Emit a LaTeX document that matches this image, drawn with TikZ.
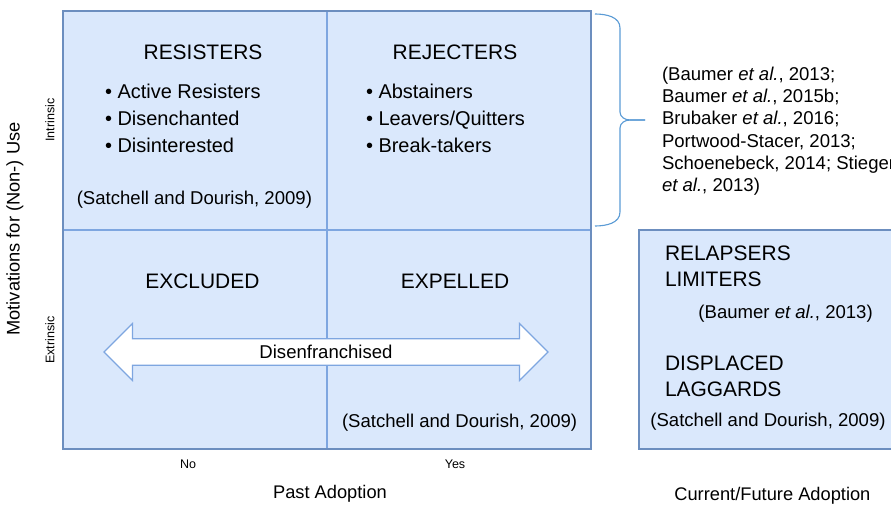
\documentclass[tikz,border=0pt]{standalone}
\usepackage{fontspec}
\setmainfont{Liberation Sans}
\usepackage{tikz}
\usetikzlibrary{shapes.arrows}

\definecolor{cellblue}{HTML}{DAE8FC}
\definecolor{lineblue}{HTML}{7EA6E0}
\definecolor{edgeblue}{HTML}{6C8EBF}
\definecolor{braceblue}{HTML}{5B9BD5}

\begin{document}
\begin{tikzpicture}[every node/.style={inner sep=0pt, outer sep=0pt},
  cell/.style={fill=cellblue, minimum width=6.6cm, minimum height=5.475cm},
  title/.style={font=\fontsize{14.9}{18}\selectfont},
  item/.style={font=\fontsize{14.2}{19.2}\selectfont, align=left, anchor=west},
  cite/.style={font=\fontsize{13.2}{15.7}\selectfont},
  axis/.style={font=\fontsize{13}{15}\selectfont},
  tick/.style={font=\fontsize{8.9}{10}\selectfont}]
\useasboundingbox (0,0) rectangle (22.275,12.6);

% quadrants
\node[cell] (resisters) at (4.875,9.5875) {};
\node[cell] (rejecters) at (11.475,9.5875) {};
\node[cell] (excluded) at (4.875,4.1125) {};
\node[cell] (expelled) at (11.475,4.1125) {};
\node[cell, draw=edgeblue, line width=0.8pt, minimum width=6.325cm] (current) at (19.1375,4.1125) {};

\draw[lineblue, line width=0.8pt] (resisters.north east) -- (excluded.south east);
\draw[lineblue, line width=0.8pt] (resisters.south west) -- (rejecters.south east);
\draw[edgeblue, line width=0.8pt] (resisters.north west) rectangle (expelled.south east);

% intrinsic
\node[title] (restitle) at (5.075,11.3) {RESISTERS};
\node[item] (resitems) at (2.625,9.65) {\textbullet\ Active Resisters\\\textbullet\ Disenchanted\\\textbullet\ Disinterested};
\node[cite] (rescite) at (4.86,7.6) {(Satchell and Dourish, 2009)};
\node[title] (rejtitle) at (11.375,11.3) {REJECTERS};
\node[item] (rejitems) at (9.15,9.65) {\textbullet\ Abstainers\\\textbullet\ Leavers/Quitters\\\textbullet\ Break-takers};

% extrinsic
\node[title] (exctitle) at (5.06,5.57) {EXCLUDED};
\node[title] (exptitle) at (11.375,5.57) {EXPELLED};
\node[double arrow, draw=lineblue, fill=white, line width=0.8pt, cite,
  minimum height=11.1cm, minimum width=1.425cm, inner ysep=0.13cm,
  double arrow head extend=0.3625cm, double arrow head indent=0pt] (disenfranchised) at (8.15,3.8) {Disenfranchised};
\node[cite] (expcite) at (11.49,2.04) {(Satchell and Dourish, 2009)};

% brace and references
\coordinate (bracetip) at (16.125,9.6);
\draw[braceblue, line width=0.8pt] (14.875,12.25) to[out=0,in=90] (15.5,11.9) -- (15.5,9.8) to[out=-90,in=180] (15.75,9.6) -- (bracetip);
\draw[braceblue, line width=0.8pt] (14.875,6.95) to[out=0,in=-90] (15.5,7.3) -- (15.5,9.4) to[out=90,in=180] (15.75,9.6) -- (bracetip);
\node[cite, align=left, anchor=west] (refs) at (16.55,9.32) {(Baumer \textit{et al.}, 2013;\\Baumer \textit{et al.}, 2015b;\\Brubaker \textit{et al.}, 2016;\\Portwood-Stacer, 2013;\\Schoenebeck, 2014; Stieger\\\textit{et al.}, 2013)};

% current/future adoption
\node[title, align=left, anchor=west, font=\fontsize{14.9}{18.5}\selectfont] (relapsers) at (16.625,5.95) {RELAPSERS\\LIMITERS};
\node[cite] (relcite) at (19.64,4.75) {(Baumer \textit{et al.}, 2013)};
\node[title, align=left, anchor=west, font=\fontsize{14.9}{18.5}\selectfont] (displaced) at (16.625,3.2) {DISPLACED\\LAGGARDS};
\node[cite] (discite) at (19.2,2.05) {(Satchell and Dourish, 2009)};

% axes
\node[axis, rotate=90] (motivations) at (0.375,6.875) {Motivations for (Non-) Use};
\node[tick, rotate=90] (intrinsic) at (1.25,9.6) {Intrinsic};
\node[tick, rotate=90] (extrinsic) at (1.25,4.1) {Extrinsic};
\node[tick] (no) at (4.7,1.0) {No};
\node[tick] (yes) at (11.375,1.0) {Yes};
\node[axis] (past) at (8.25,0.25) {Past Adoption};
\node[axis] (future) at (19.31,0.2) {Current/Future Adoption};
\end{tikzpicture}
\end{document}
